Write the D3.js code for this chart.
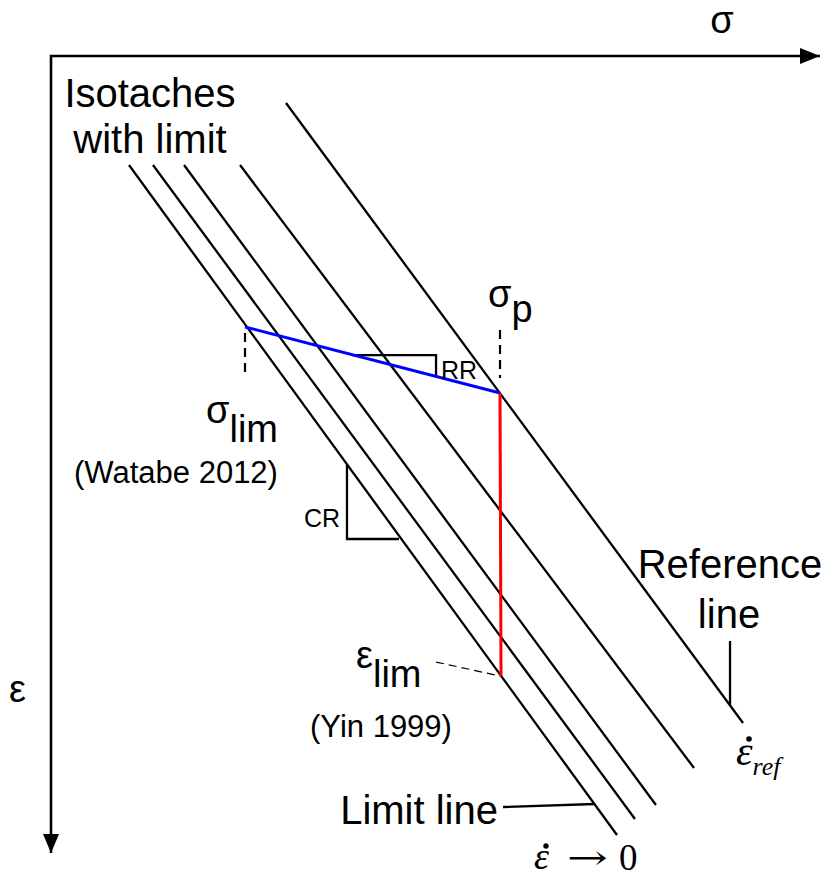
<!DOCTYPE html>
<html>
<head>
<meta charset="utf-8">
<script src="https://cdn.jsdelivr.net/npm/d3@7"></script>
<style>
  body { margin: 0; background: #fff; }
  text { font-family: "Liberation Sans", Arial, sans-serif; fill: #000; }
  .math { font-family: "Liberation Serif", "Times New Roman", serif; font-style: italic; }
</style>
</head>
<body>
<div class="chart"></div>
<script>
// isotaches: start / end points (sigma, epsilon), arbitrary units 0..10
var isoSigmaStart = [1.014, 1.326, 1.730, 2.458, 3.056];
var isoEpsStart = [1.368, 1.368, 1.368, 1.368, 0.590];
var isoSigmaEnd = [7.360, 7.594, 7.867, 8.362, 8.999];
var isoEpsEnd = [9.774, 9.573, 9.398, 8.934, 8.369];

// blue (recompression) and red (creep) paths
var blueSigma = [2.523, 5.839];
var blueEps = [3.400, 4.228];
var redSigma = [5.839, 5.852];
var redEps = [4.228, 7.779];

// slope triangles
var rrSigma = [3.914, 5.007, 5.007];
var rrEps = [3.752, 3.752, 4.028];
var crSigma = [3.849, 3.849, 4.525];
var crEps = [5.132, 6.060, 6.060];

// dashed markers
var limMarkSigma = [2.523, 2.523];
var limMarkEps = [3.476, 4.040];
var pMarkSigma = [5.839, 5.839];
var pMarkEps = [3.438, 4.040];
var epsLimLeadSigma = [5.007, 5.839];
var epsLimLeadEps = [7.604, 7.779];

// leader lines
var limitLeadSigma = [5.878, 7.074];
var limitLeadEps = [9.423, 9.385];
var refLeadSigma = [8.830, 8.830];
var refLeadEps = [7.340, 8.143];

var width = 826;
var height = 878;

var svg = d3.select(".chart").append("svg")
  .attr("width", width)
  .attr("height", height);

var x = d3.scaleLinear().domain([0, 10]).range([51, 820]);
var y = d3.scaleLinear().domain([0, 10]).range([56, 853]);

var line = d3.line().x(function (d) { return x(d[0]); }).y(function (d) { return y(d[1]); });

function pts(sx, sy) {
  return sx.map(function (s, i) { return [s, sy[i]]; });
}

// axes
svg.append("path")
  .attr("d", line([[10, 0], [0, 0], [0, 10]]))
  .attr("fill", "none")
  .attr("stroke", "#000")
  .attr("stroke-width", 2.6);

// arrow heads
svg.append("path")
  .attr("d", "M" + x(10) + "," + y(0) + " l-20,-8 l0,16 z")
  .attr("fill", "#000");
svg.append("path")
  .attr("d", "M" + x(0) + "," + y(10) + " l-8,-19 l16,0 z")
  .attr("fill", "#000");

// isotaches
var iso = isoSigmaStart.map(function (s, i) {
  return [[s, isoEpsStart[i]], [isoSigmaEnd[i], isoEpsEnd[i]]];
});
svg.append("g").selectAll("path")
  .data(iso)
  .enter()
  .append("path")
  .attr("d", line)
  .attr("fill", "none")
  .attr("stroke", "#000")
  .attr("stroke-width", 2.3);

// triangles
[pts(rrSigma, rrEps), pts(crSigma, crEps)].forEach(function (p) {
  svg.append("path")
    .attr("d", line(p))
    .attr("fill", "none")
    .attr("stroke", "#000")
    .attr("stroke-width", 2.3);
});

// dashed markers
[pts(limMarkSigma, limMarkEps), pts(pMarkSigma, pMarkEps), pts(epsLimLeadSigma, epsLimLeadEps)].forEach(function (p, i) {
  svg.append("path")
    .attr("d", line(p))
    .attr("fill", "none")
    .attr("stroke", "#000")
    .attr("stroke-width", i == 2 ? 1.2 : 2.2)
    .attr("stroke-dasharray", i == 2 ? "8,5" : "9,6");
});

// leaders
[pts(limitLeadSigma, limitLeadEps), pts(refLeadSigma, refLeadEps)].forEach(function (p) {
  svg.append("path")
    .attr("d", line(p))
    .attr("fill", "none")
    .attr("stroke", "#000")
    .attr("stroke-width", 2.3);
});

// blue and red
svg.append("path")
  .attr("d", line(pts(blueSigma, blueEps)))
  .attr("stroke", "#0000ff")
  .attr("stroke-width", 3);
svg.append("path")
  .attr("d", line(pts(redSigma, redEps)))
  .attr("stroke", "#ff0000")
  .attr("stroke-width", 3);

// labels
function label(t, px, py, size, anchor) {
  return svg.append("text")
    .attr("x", px)
    .attr("y", py)
    .attr("font-size", size)
    .attr("text-anchor", anchor || "start")
    .text(t);
}

label("σ", 722, 33, 38, "middle");
label("ε", 9, 702, 38);
label("Isotaches", 150, 107, 40, "middle");
label("with limit", 150, 153, 40, "middle");
label("Reference", 730, 578, 40, "middle");
label("line", 729, 628, 40, "middle");
label("Limit line", 498, 824, 40, "end");
label("(Watabe 2012)", 176, 483, 31, "middle");
label("(Yin 1999)", 381, 737, 31, "middle");
label("RR", 441, 379, 25);
label("CR", 304, 527, 25);

var sp = label("σ", 488, 307, 38);
sp.append("tspan").attr("dy", 15).text("p");
var sl = label("σ", 206, 423, 38);
sl.append("tspan").attr("dy", 19).text("lim");
var el = label("ε", 356, 668, 38);
el.append("tspan").attr("dy", 19).text("lim");

// strain rate labels (serif italic)
var er = svg.append("text").attr("class", "math").attr("x", 736).attr("y", 765).attr("font-size", 42).text("ε");
er.append("tspan").attr("dy", 10).attr("font-size", 26).text("ref");
svg.append("circle").attr("cx", 749).attr("cy", 739).attr("r", 2.8).attr("fill", "#000");

svg.append("text").attr("class", "math").attr("x", 534).attr("y", 869).attr("font-size", 38).text("ε");
svg.append("circle").attr("cx", 546).attr("cy", 846).attr("r", 2.7).attr("fill", "#000");
svg.append("text").attr("x", 567).attr("y", 869).attr("font-size", 34)
  .attr("textLength", 41).attr("lengthAdjust", "spacingAndGlyphs")
  .style("font-family", "'DejaVu Serif', serif").text("→");
svg.append("text").attr("x", 619).attr("y", 870).attr("font-size", 37)
  .style("font-family", "'Liberation Serif', serif").text("0");
</script>
</body>
</html>
